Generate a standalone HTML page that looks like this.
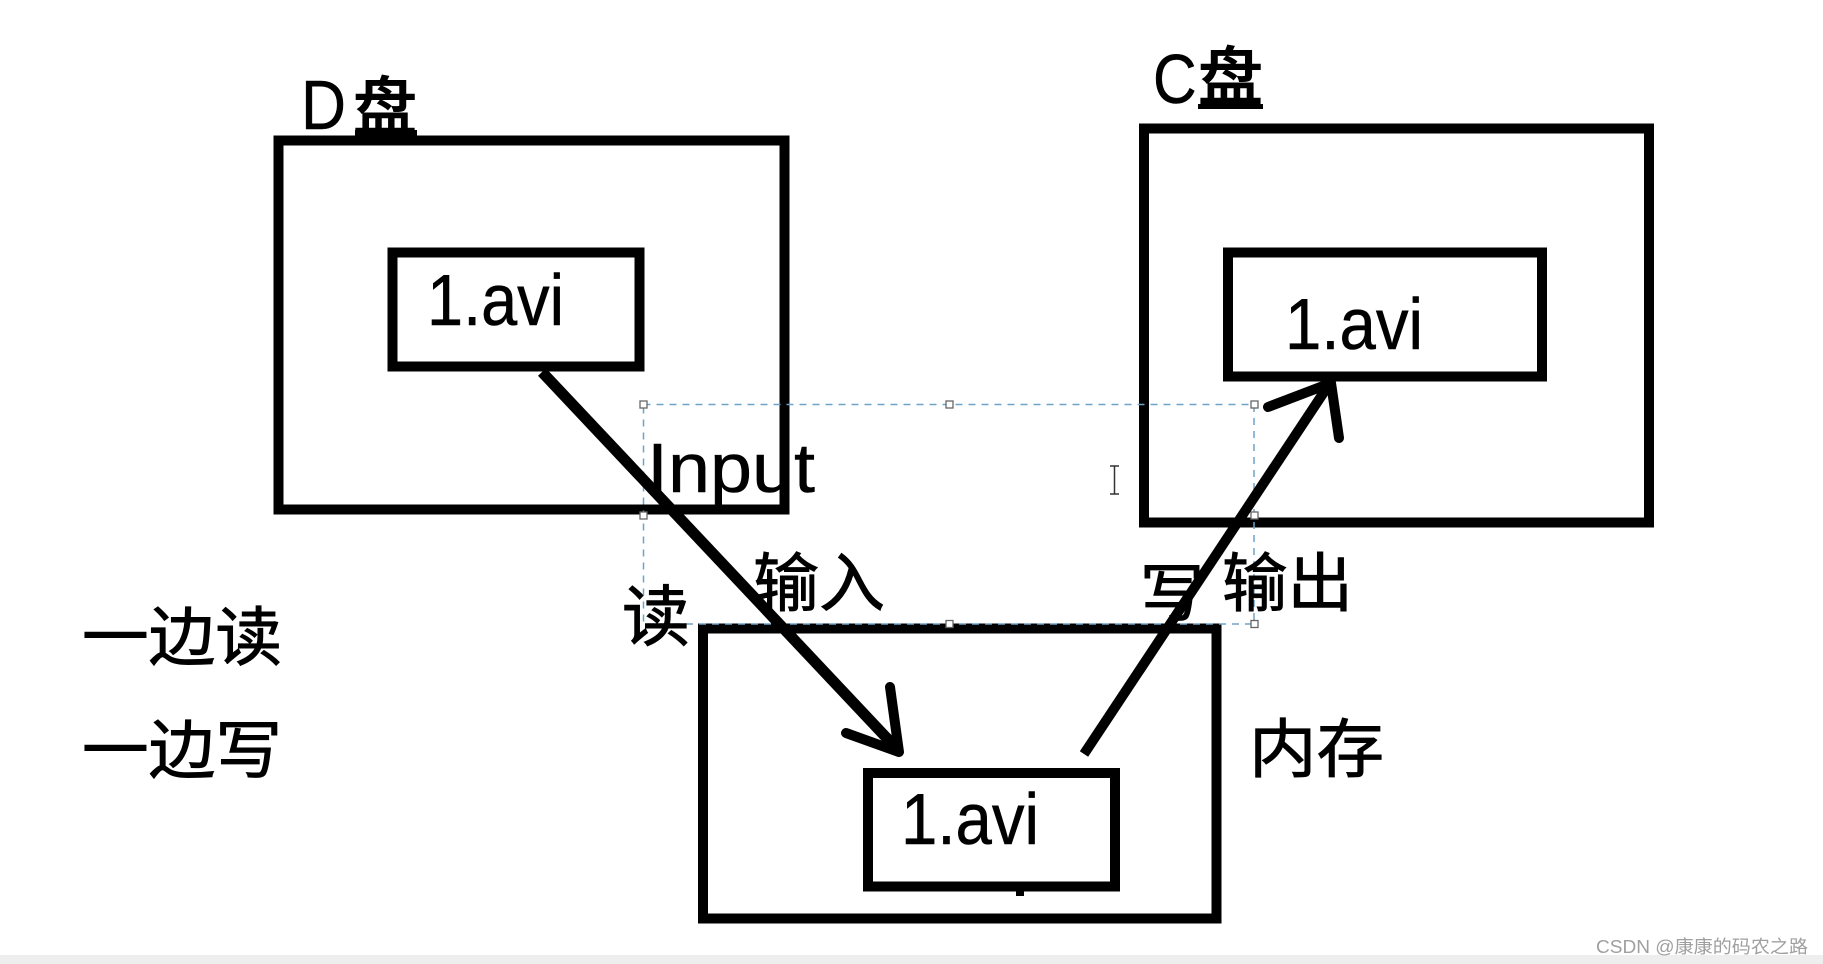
<!DOCTYPE html>
<html>
<head>
<meta charset="utf-8">
<style>
html,body{margin:0;padding:0;background:#fff;width:1823px;height:964px;overflow:hidden}
svg{display:block;position:absolute;left:0;top:0}
.lat{font-family:"Liberation Sans","Noto Sans CJK SC",sans-serif;fill:#000;stroke:#000;stroke-width:.5px}
.cjk{font-family:"Noto Sans CJK SC","WenQuanYi Zen Hei",sans-serif;fill:#000;font-size:64px;stroke:#000;stroke-width:.9px}
</style>
</head>
<body>
<svg width="1823" height="964" viewBox="0 0 1823 964" xmlns="http://www.w3.org/2000/svg">
<rect x="0" y="0" width="1823" height="964" fill="#fff"/>
<rect x="0" y="955" width="1823" height="9" fill="#eeeeee"/>

<!-- boxes -->
<g fill="none" stroke="#000" stroke-width="10">
<rect x="278.500" y="140.500" width="506" height="369"/>
<rect x="392.500" y="252.500" width="247" height="114"/>
<rect x="1144" y="128.500" width="505" height="394"/>
<rect x="1228" y="252.500" width="314" height="124"/>
<rect x="703" y="628.500" width="513.500" height="290"/>
<rect x="868" y="773" width="247" height="113.500"/>
</g>
<rect x="1016" y="888" width="8" height="8" fill="#000"/>

<!-- selection frame -->
<g fill="none" stroke="#6ea3c8" stroke-width="1.500" stroke-dasharray="7 6">
<rect x="643.500" y="404.500" width="610.500" height="219.500"/>
</g>
<g fill="#fff" stroke="#666" stroke-width="1.300">
<rect x="640" y="401" width="7" height="7"/>
<rect x="946" y="401" width="7" height="7"/>
<rect x="1251" y="401" width="7" height="7"/>
<rect x="640" y="512" width="7" height="7"/>
<rect x="1251" y="512" width="7" height="7"/>
<rect x="946" y="620.500" width="7" height="7"/>
<rect x="1251" y="620.500" width="7" height="7"/>
</g>

<!-- text -->
<text class="lat" transform="translate(301 129) scale(.89 1)" font-size="70">D</text>
<text class="cjk" x="353" y="130" textLength="64" lengthAdjust="spacingAndGlyphs" font-weight="500">盘</text>
<text class="lat" transform="translate(1153 103) scale(.863 1)" font-size="70">C</text>
<text class="cjk" x="1198" y="100" textLength="65" lengthAdjust="spacingAndGlyphs" font-weight="500">盘</text>
<rect x="1198" y="104" width="65" height="5" fill="#000"/>
<rect x="355" y="130" width="62" height="8" fill="#000"/>

<text class="lat" x="427" y="325" font-size="72" textLength="137" lengthAdjust="spacingAndGlyphs">1.avi</text>
<text class="lat" x="1285" y="349" font-size="72" textLength="138" lengthAdjust="spacingAndGlyphs">1.avi</text>
<text class="lat" x="901" y="844" font-size="72" textLength="138" lengthAdjust="spacingAndGlyphs">1.avi</text>
<text class="lat" x="647" y="492" font-size="70" textLength="168" lengthAdjust="spacingAndGlyphs">Input</text>

<text class="cjk" x="753" y="606" textLength="132" lengthAdjust="spacingAndGlyphs">输入</text>
<text class="cjk" transform="translate(622 640) scale(1.06 1.03)">读</text>
<text class="cjk" x="82" y="660" textLength="200" lengthAdjust="spacingAndGlyphs">一边读</text>
<text class="cjk" x="82" y="773" textLength="200" lengthAdjust="spacingAndGlyphs">一边写</text>
<text class="cjk" x="1140" y="616" textLength="64" lengthAdjust="spacingAndGlyphs">写</text>
<text class="cjk" x="1222" y="606" textLength="131" lengthAdjust="spacingAndGlyphs">输出</text>
<text class="cjk" x="1249" y="772" textLength="135" lengthAdjust="spacingAndGlyphs">内存</text>

<text x="1596" y="953" font-size="18" textLength="212" lengthAdjust="spacingAndGlyphs" fill="#a0a0a0" style="font-family:'Liberation Sans','Noto Sans CJK SC',sans-serif">CSDN @康康的码农之路</text>

<!-- arrows -->
<g fill="none" stroke="#000" stroke-linecap="butt" stroke-linejoin="round">
<path d="M542 372 L898 750" stroke-width="11"/>
<path d="M1084 754 L1330 383" stroke-width="10"/>
</g>
<g fill="none" stroke="#000" stroke-width="10" stroke-linecap="round" stroke-linejoin="round">
<path d="M846 733 L899 752 L890 687"/>
<path d="M1268 407 L1331 383 L1339 438"/>
</g>

<!-- I-beam cursor -->
<g fill="none" stroke="#333" stroke-width="1.500">
<path d="M1110 466 H1119 M1114.500 466 V494 M1110 494 H1119"/>
</g>
</svg>
</body>
</html>
